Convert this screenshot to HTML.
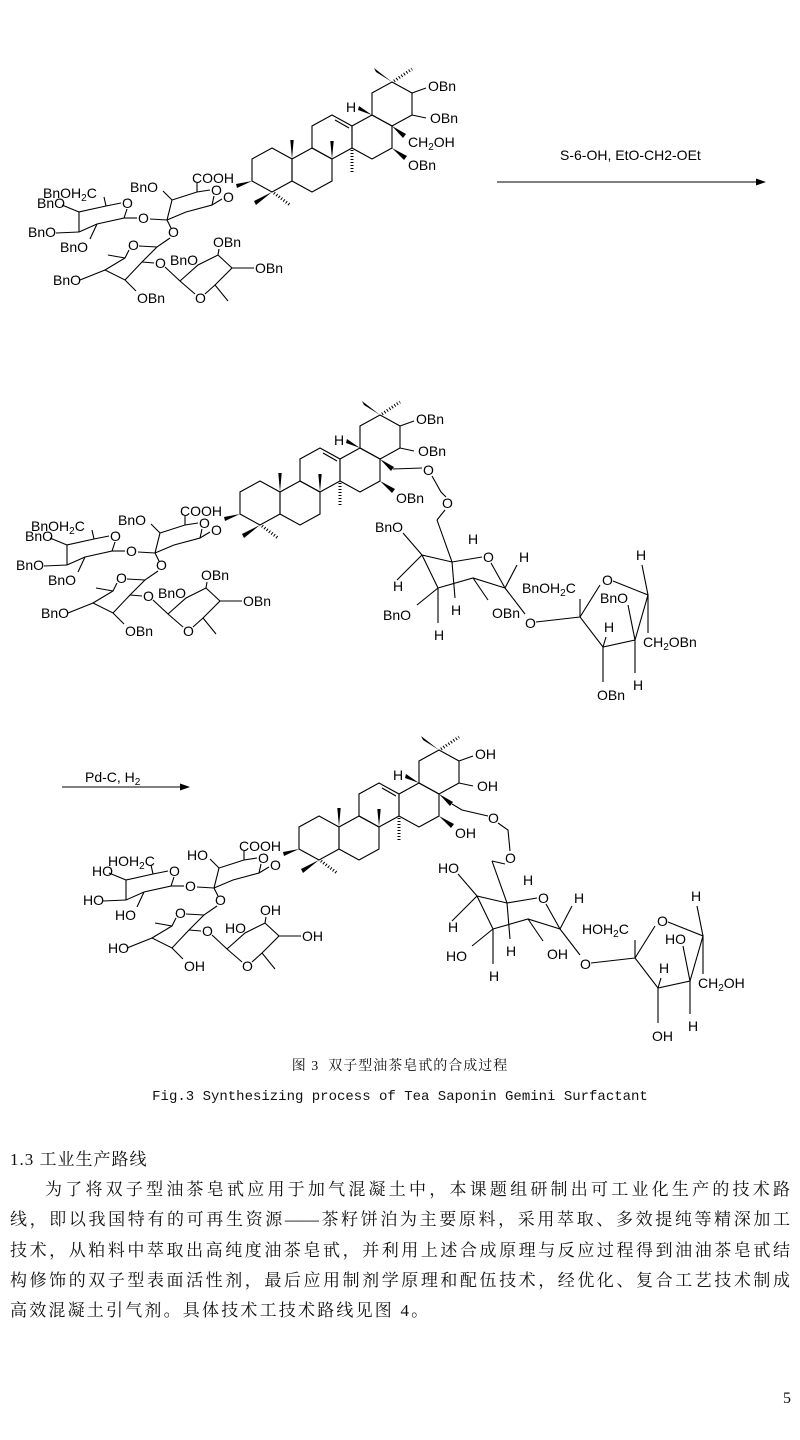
<!DOCTYPE html>
<html><head><meta charset="utf-8"><style>
html,body{margin:0;padding:0;background:#fff;}
body{width:800px;height:1440px;position:relative;overflow:hidden;}
svg{position:absolute;left:0;top:0;}
svg text{font-family:"Liberation Sans",sans-serif;font-size:14px;fill:#000;}
.t{position:absolute;font-family:"Liberation Serif","Noto Serif CJK SC",serif;color:#111;white-space:nowrap;}
.p{position:absolute;left:10px;width:780px;font-family:"Liberation Serif","Noto Serif CJK SC",serif;font-size:17px;line-height:20px;color:#111;text-align:justify;text-align-last:justify;white-space:nowrap;}
</style></head><body>
<svg width="800" height="1440" viewBox="0 0 800 1440">
<defs>
<g id="core" stroke="#000" stroke-width="1.1" fill="none">
<polygon points="272,148 292,159 292,181 272,192 252,181 252,159"/>
<polygon points="312,148 332,159 332,181 312,192 292,181 292,159"/>
<polygon points="332,115 352,126 352,148 332,159 312,148 312,126"/>
<polygon points="372,115 392,126 392,148 372,159 352,148 352,126"/>
<polygon points="392,82 412,93 412,115 392,126 372,115 372,93"/>
<line x1="335" y1="120" x2="349" y2="128"/>
<line x1="352" y1="150" x2="352" y2="173" stroke-width="3" stroke-dasharray="1 2"/>
<line x1="274" y1="193" x2="290" y2="205" stroke-width="3" stroke-dasharray="1 2"/>
<line x1="394" y1="81" x2="412" y2="69" stroke-width="3" stroke-dasharray="1 2"/>
<line x1="412" y1="93" x2="426" y2="88"/>
<line x1="412" y1="115" x2="426" y2="118"/>
<g fill="#000" stroke="none">
<polygon points="292,159 290.3,140 293.7,140"/>
<polygon points="332,159 330.3,141 333.7,141"/>
<polygon points="272,192 254,201 256,205"/>
<polygon points="252,181 236,184 237,188"/>
<polygon points="392,82 374,68 376,72"/>
<polygon points="372,115 359,106 358,110"/>
<polygon points="392,126 403,138 406,134"/>
<polygon points="392,148 404,160 407,156"/>
</g>
<polyline points="167,220 172,200 197,192 210,190"/>
<polyline points="214,196 212,205 186,212 167,220"/>
<line x1="212" y1="205" x2="222" y2="199"/>
<line x1="197" y1="192" x2="197" y2="183"/>
<line x1="172" y1="200" x2="163" y2="191"/>
<line x1="167" y1="220" x2="171" y2="228"/>
<line x1="150" y1="219" x2="167" y2="220"/>
<polyline points="79,232 79,212 106,206 121,203"/>
<polyline points="127,209 124,218 97,224 79,232"/>
<line x1="124" y1="218" x2="137" y2="218"/>
<line x1="79" y1="212" x2="62" y2="205"/>
<line x1="79" y1="232" x2="56" y2="233"/>
<line x1="97" y1="224" x2="90" y2="239"/>
<line x1="106" y1="206" x2="104" y2="197"/>
<polyline points="170,238 157,247 139,246"/>
<polyline points="129,250 125,258 105,270 125,280 142,262 157,247"/>
<line x1="125" y1="258" x2="108" y2="255"/>
<line x1="105" y1="270" x2="80" y2="280"/>
<line x1="125" y1="280" x2="136" y2="291"/>
<line x1="142" y1="262" x2="154" y2="263"/>
<polyline points="165,267 180,281 195,294"/>
<polyline points="205,294 215,285 232,268 218,255 198,265 180,281"/>
<line x1="215" y1="285" x2="228" y2="301"/>
<line x1="232" y1="268" x2="254" y2="268"/>
<line x1="218" y1="255" x2="219" y2="249"/>
</g>
<g id="rsug" stroke="#000" stroke-width="1.1" fill="none">
<polyline points="437,520 452,562 455,598"/>
<polyline points="403,533 422,555 452,562 482,557"/>
<line x1="422" y1="555" x2="397" y2="580"/>
<polyline points="422,555 438,588 473,578 505,588 517,565"/>
<line x1="438" y1="588" x2="417" y2="605"/>
<line x1="438" y1="588" x2="438" y2="623"/>
<line x1="473" y1="578" x2="488" y2="600"/>
<line x1="491" y1="563" x2="505" y2="588"/>
<line x1="505" y1="588" x2="525" y2="614"/>
<line x1="536" y1="622" x2="580" y2="617"/>
<polyline points="580,599 580,617 603,647 635,640 648,595 613,581"/>
<line x1="600" y1="585" x2="580" y2="617"/>
<line x1="648" y1="595" x2="642" y2="565"/>
<line x1="648" y1="595" x2="648" y2="633"/>
<line x1="635" y1="640" x2="628" y2="605"/>
<line x1="635" y1="640" x2="635" y2="673"/>
<line x1="603" y1="647" x2="603" y2="682"/>
<line x1="603" y1="647" x2="606" y2="637"/>
</g>
</defs>

<!-- Structure 1 -->
<use href="#core"/>
<g>
<text x="43" y="198">BnOH<tspan font-size="10" dy="3">2</tspan><tspan dy="-3">C</tspan></text>
<text x="37" y="208">BnO</text>
<text x="28" y="237">BnO</text>
<text x="60" y="252">BnO</text>
<text x="122" y="208">O</text>
<text x="138" y="223">O</text>
<text x="130" y="192">BnO</text>
<text x="192" y="183">COOH</text>
<text x="211" y="195">O</text>
<text x="223" y="202">O</text>
<text x="168" y="237">O</text>
<text x="128" y="250">O</text>
<text x="53" y="285">BnO</text>
<text x="137" y="303">OBn</text>
<text x="155" y="268">O</text>
<text x="170" y="265">BnO</text>
<text x="195" y="303">O</text>
<text x="213" y="247">OBn</text>
<text x="255" y="273">OBn</text>
<text x="428" y="91">OBn</text>
<text x="430" y="123">OBn</text>
<text x="346" y="112">H</text>
<text x="408" y="147">CH<tspan font-size="10" dy="3">2</tspan><tspan dy="-3">OH</tspan></text>
<text x="408" y="170">OBn</text>
</g>
<line x1="497" y1="182" x2="758" y2="182" stroke="#000" stroke-width="1.1"/>
<polygon points="766,182 756,178.5 756,185.5" fill="#000"/>
<text x="560" y="160">S-6-OH, EtO-CH2-OEt</text>

<!-- Structure 2 -->
<use href="#core" transform="translate(-12,333)"/>
<use href="#rsug"/>
<g stroke="#000" stroke-width="1.1" fill="none">
<polyline points="393,469 422,468"/>
<polyline points="432,476 441,492 446,497"/>
<polyline points="445,510 437,520"/>
</g>
<g transform="translate(-12,333)">
<text x="43" y="198">BnOH<tspan font-size="10" dy="3">2</tspan><tspan dy="-3">C</tspan></text>
<text x="37" y="208">BnO</text>
<text x="28" y="237">BnO</text>
<text x="60" y="252">BnO</text>
<text x="122" y="208">O</text>
<text x="138" y="223">O</text>
<text x="130" y="192">BnO</text>
<text x="192" y="183">COOH</text>
<text x="211" y="195">O</text>
<text x="223" y="202">O</text>
<text x="168" y="237">O</text>
<text x="128" y="250">O</text>
<text x="53" y="285">BnO</text>
<text x="137" y="303">OBn</text>
<text x="155" y="268">O</text>
<text x="170" y="265">BnO</text>
<text x="195" y="303">O</text>
<text x="213" y="247">OBn</text>
<text x="255" y="273">OBn</text>
<text x="428" y="91">OBn</text>
<text x="430" y="123">OBn</text>
<text x="346" y="112">H</text>
<text x="408" y="170">OBn</text>
</g>
<text x="423" y="475">O</text>
<text x="442" y="508">O</text>
<g>
<text x="375" y="532">BnO</text>
<text x="468" y="544">H</text>
<text x="483" y="562">O</text>
<text x="519" y="562">H</text>
<text x="522" y="593">BnOH<tspan font-size="10" dy="3">2</tspan><tspan dy="-3">C</tspan></text>
<text x="602" y="585">O</text>
<text x="636" y="560">H</text>
<text x="600" y="603">BnO</text>
<text x="393" y="591">H</text>
<text x="383" y="620">BnO</text>
<text x="451" y="615">H</text>
<text x="492" y="618">OBn</text>
<text x="525" y="628">O</text>
<text x="604" y="632">H</text>
<text x="643" y="647">CH<tspan font-size="10" dy="3">2</tspan><tspan dy="-3">OBn</tspan></text>
<text x="434" y="640">H</text>
<text x="597" y="700">OBn</text>
<text x="633" y="690">H</text>
</g>

<!-- Structure 3 -->
<line x1="62" y1="787" x2="182" y2="787" stroke="#000" stroke-width="1.1"/>
<polygon points="190,787 180,783.5 180,790.5" fill="#000"/>
<text x="85" y="782">Pd-C, H<tspan font-size="10" dy="3">2</tspan></text>
<use href="#core" transform="translate(47,668)"/>
<g transform="translate(47,668)">
<text x="61" y="198">HOH<tspan font-size="10" dy="3">2</tspan><tspan dy="-3">C</tspan></text>
<text x="45" y="208">HO</text>
<text x="36" y="237">HO</text>
<text x="68" y="252">HO</text>
<text x="122" y="208">O</text>
<text x="138" y="223">O</text>
<text x="140" y="192">HO</text>
<text x="192" y="183">COOH</text>
<text x="211" y="195">O</text>
<text x="223" y="202">O</text>
<text x="168" y="237">O</text>
<text x="128" y="250">O</text>
<text x="61" y="285">HO</text>
<text x="137" y="303">OH</text>
<text x="155" y="268">O</text>
<text x="178" y="265">HO</text>
<text x="195" y="303">O</text>
<text x="213" y="247">OH</text>
<text x="255" y="273">OH</text>
<text x="428" y="91">OH</text>
<text x="430" y="123">OH</text>
<text x="346" y="112">H</text>
<text x="408" y="170">OH</text>
</g>
<g stroke="#000" stroke-width="1.1" fill="none">
<polyline points="452,804 462,810 488,816"/>
<polyline points="498,823 508,830 510,851"/>
<polyline points="505,864 492,861"/>
</g>
<text x="488" y="823">O</text>
<text x="505" y="863">O</text>
<g transform="translate(55,341)">
<use href="#rsug"/>
<text x="383" y="532">HO</text>
<text x="468" y="544">H</text>
<text x="483" y="562">O</text>
<text x="519" y="562">H</text>
<text x="527" y="593">HOH<tspan font-size="10" dy="3">2</tspan><tspan dy="-3">C</tspan></text>
<text x="602" y="585">O</text>
<text x="636" y="560">H</text>
<text x="610" y="603">HO</text>
<text x="393" y="591">H</text>
<text x="391" y="620">HO</text>
<text x="451" y="615">H</text>
<text x="492" y="618">OH</text>
<text x="525" y="628">O</text>
<text x="604" y="632">H</text>
<text x="643" y="647">CH<tspan font-size="10" dy="3">2</tspan><tspan dy="-3">OH</tspan></text>
<text x="434" y="640">H</text>
<text x="597" y="700">OH</text>
<text x="633" y="690">H</text>
</g>
</svg>

<div class="t" style="left:0;width:800px;top:1058px;text-align:center;font-size:14px;line-height:18px;letter-spacing:1px;">图 3&nbsp;&nbsp;双子型油茶皂甙的合成过程</div>
<div class="t" style="left:0;width:800px;top:1088px;text-align:center;font-family:'Liberation Mono',monospace;font-size:14px;line-height:18px;">Fig.3 Synthesizing process of Tea Saponin Gemini Surfactant</div>

<div class="t" style="left:10px;top:1150px;font-size:17px;line-height:20px;letter-spacing:1px;">1.3 工业生产路线</div>
<div class="p" style="top:1180px;left:45px;width:745px;">为了将双子型油茶皂甙应用于加气混凝土中，本课题组研制出可工业化生产的技术路</div>
<div class="p" style="top:1210px;">线，即以我国特有的可再生资源——茶籽饼泊为主要原料，采用萃取、多效提纯等精深加工</div>
<div class="p" style="top:1241px;">技术，从粕料中萃取出高纯度油茶皂甙，并利用上述合成原理与反应过程得到油油茶皂甙结</div>
<div class="p" style="top:1271px;">构修饰的双子型表面活性剂，最后应用制剂学原理和配伍技术，经优化、复合工艺技术制成</div>
<div class="p" style="top:1301px;text-align-last:left;letter-spacing:2.2px;">高效混凝土引气剂。具体技术工技术路线见图 4。</div>
<div class="t" style="left:783px;top:1390px;font-size:16px;">5</div>
</body></html>
